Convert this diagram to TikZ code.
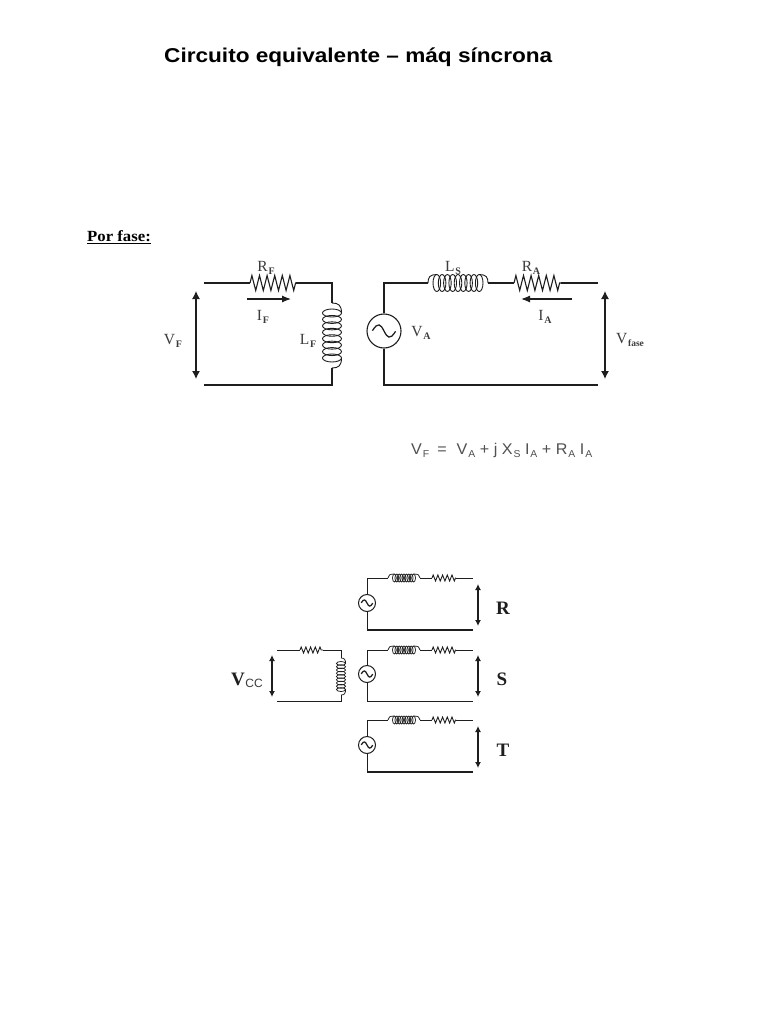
\documentclass[tikz,border=0pt]{standalone}
\usepackage{fontspec}
\setmainfont{Liberation Serif}
\setsansfont{Liberation Sans}
\newfontfamily\titlefont[FakeStretch=1.13]{Liberation Sans}
\newfontfamily\headfont[FakeStretch=1.08]{Liberation Serif}
\newfontfamily\eqfont[FakeStretch=1.04]{Liberation Sans}
\usetikzlibrary{decorations.pathmorphing,arrows.meta,calc}
\definecolor{ink}{HTML}{1E1E1E}
\definecolor{soft}{HTML}{3C3C3C}
\definecolor{eqgrey}{HTML}{505050}
\newcommand{\fs}[1]{\fontsize{#1}{#1}\selectfont}
\newcommand{\lab}[2]{#1\kern.8pt\raisebox{-2.5pt}{\fs{10}\bfseries #2}}
\newcommand{\eqsub}[1]{\kern1pt\raisebox{-3pt}{\fs{10}#1}}
\newcommand{\tildeat}[2]{\draw[wire,shift={(#1.center)},x=#2pt,y=#2pt] (-.68,.02) .. controls (-.35,.55) and (-.2,.4) .. (0,0) .. controls (.2,-.4) and (.35,-.55) .. (.68,-.02);}
% \coilat{start}{angle}{length}{loops}{half width}{half height}{inset}{style}
\newcommand{\coilat}[8]{%
  \begin{scope}[shift={(#1)},rotate=#2,#8]
    \pgfmathsetmacro{\cfirst}{#7+#5}
    \pgfmathsetmacro{\clast}{#3-#7-#5}
    \pgfmathsetmacro{\cstep}{(\clast-\cfirst)/(#4-1)}
    \draw (0,0) .. controls (0,-#6*.7) and (#7*.4,-#6) .. (\cfirst,-#6);
    \draw (#3,0) .. controls (#3,-#6*.7) and (#3-#7*.4,-#6) .. (\clast,-#6);
    \foreach \ci in {1,...,#4}{
      \pgfmathsetmacro{\cx}{\cfirst+(\ci-1)*\cstep}
      \draw (\cx,0) ellipse [x radius=#5pt,y radius=#6pt];
    }
  \end{scope}}
\tikzset{
  wire/.style={draw=ink,line width=1.25pt,line join=miter},
  thin wire/.style={draw=ink,line width=1pt},
  heavy wire/.style={draw=ink,line width=1.9pt},
  bigres/.style={draw=ink,line width=1.1pt,decorate,decoration={zigzag,segment length=7.6pt,amplitude=7.5pt}},
  smallres/.style={draw=ink,line width=.9pt,decorate,decoration={zigzag,segment length=4.7pt,amplitude=3pt}},
  bigcoil/.style={line width=.9pt,draw=ink},
  smallcoil/.style={line width=.75pt,draw=ink},
  bigsrc/.style={circle,draw=ink,line width=1.1pt,minimum size=34pt,inner sep=0pt},
  smallsrc/.style={circle,draw=ink,line width=1pt,minimum size=17pt,inner sep=0pt},
  dbl/.style={draw=ink,line width=1.2pt,{Latex[length=8pt,width=8pt]}-{Latex[length=8pt,width=8pt]}},
  smalldbl/.style={draw=ink,line width=1.2pt,{Latex[length=6pt,width=6pt]}-{Latex[length=6pt,width=6pt]}},
  curr/.style={draw=ink,line width=1.2pt,-{Latex[length=9pt,width=7pt]}},
  val/.style={text=soft,font=\fs{15.5},inner sep=0pt},
  phase/.style={text=ink,font=\fs{19}\bfseries,inner sep=0pt},
}
\begin{document}
\begin{tikzpicture}[x=1pt,y=-1pt]
\fill[white] (0,0) rectangle (768,1024);
\useasboundingbox (0,0) rectangle (768,1024);

\node[anchor=west,inner sep=0pt,font=\titlefont\bfseries\fs{20}] (title) at (164,57) {Circuito equivalente – máq síncrona};
\node[anchor=west,inner sep=0pt,font=\headfont\bfseries\fs{15.5}] (porfase) at (87,237) {\underline{Por fase:}};

% Field circuit
\coordinate (ftl) at (204,283);
\coordinate (fr1) at (250,283);
\coordinate (fr2) at (296,283);
\coordinate (ftr) at (332,283);
\coordinate (fl1) at (332,303);
\coordinate (fl2) at (332,368);
\coordinate (fbr) at (332,385);
\coordinate (fbl) at (204,385);
\draw[wire] (ftl) -- (fr1);
\draw[bigres] (fr1) -- (fr2);
\draw[wire] (fr2) -- (ftr) -- (fl1);
\coilat{fl1}{-90}{65}{8}{4}{9.5}{6}{bigcoil}
\draw[wire] (fl2) -- (fbr) -- (fbl);
\coordinate (vf1) at (196,291); \coordinate (vf2) at (196,379);
\draw[dbl] (vf1) -- (vf2);
\coordinate (if1) at (247,299); \coordinate (if2) at (291,299);
\draw[curr] (if1) -- (if2);
\node[val] (lrf) at (266,268) {\lab{R}{F}};
\node[val] (lif) at (263,317) {\lab{I}{F}};
\node[val] (llf) at (308,341) {\lab{L}{F}};
\node[val] (lvf) at (173,341) {\lab{V}{F}};

% Armature circuit
\node[bigsrc] (va) at (384,331) {};
\tildeat{va}{17}
\coordinate (atl) at (384,283);
\coordinate (al1) at (428,283);
\coordinate (al2) at (488,283);
\coordinate (ar1) at (514,283);
\coordinate (ar2) at (561,283);
\coordinate (atr) at (598,283);
\coordinate (abl) at (384,385);
\coordinate (abr) at (598,385);
\draw[wire] (va.north) -- (atl) -- (al1);
\coilat{al1}{0}{60}{9}{3.8}{8.5}{5}{bigcoil}
\draw[wire] (al2) -- (ar1);
\draw[bigres] (ar1) -- (ar2);
\draw[wire] (ar2) -- (atr);
\draw[wire] (va.south) -- (abl) -- (abr);
\coordinate (vp1) at (605,291); \coordinate (vp2) at (605,379);
\draw[dbl] (vp1) -- (vp2);
\coordinate (ia1) at (572,299); \coordinate (ia2) at (521,299);
\draw[curr] (ia1) -- (ia2);
\node[val] (lls) at (453,268) {\lab{L}{S}};
\node[val] (lra) at (531,268) {\lab{R}{A}};
\node[val] (lia) at (545,317) {\lab{I}{A}};
\node[val] (lva) at (421,333) {\lab{V}{A}};
\node[val] (lvp) at (630,340) {V\kern.8pt\raisebox{-2.5pt}{\fs{9.5}\bfseries fase}};

% Equation
\node[anchor=west,inner sep=0pt,text=eqgrey,font=\eqfont\fs{15.5}] (eq) at (411,450) {V\eqsub{F}\kern8pt=\kern10ptV\eqsub{A} + j X\eqsub{S} I\eqsub{A} + R\eqsub{A} I\eqsub{A}};

% Phase R
\node[smallsrc] (sr) at (367,603) {};
\tildeat{sr}{8.5}
\coordinate (rtl) at (367,578); \coordinate (rl1) at (388,578); \coordinate (rl2) at (420,578);
\coordinate (rr1) at (432,578); \coordinate (rr2) at (456,578); \coordinate (rtr) at (473,578);
\coordinate (rbl) at (367,630); \coordinate (rbr) at (473,630);
\draw[thin wire] (sr.north) -- (rtl) -- (rl1);
\coilat{rl1}{0}{32}{9}{1.9}{4}{4.5}{smallcoil}
\draw[thin wire] (rl2) -- (rr1);
\draw[smallres] (rr1) -- (rr2);
\draw[thin wire] (rr2) -- (rtr);
\draw[thin wire] (sr.south) -- (rbl);
\draw[heavy wire] (rbl) -- (rbr);
\coordinate (ra1) at (478,584); \coordinate (ra2) at (478,626);
\draw[smalldbl] (ra1) -- (ra2);
\node[phase] (lr) at (503,608) {R};

% Phase S
\node[smallsrc] (ss) at (367,674) {};
\tildeat{ss}{8.5}
\coordinate (stl) at (367,650); \coordinate (sl1) at (388,650); \coordinate (sl2) at (420,650);
\coordinate (sr1) at (432,650); \coordinate (sr2) at (456,650); \coordinate (str) at (473,650);
\coordinate (sbl) at (367,701); \coordinate (sbr) at (473,701);
\draw[thin wire] (ss.north) -- (stl) -- (sl1);
\coilat{sl1}{0}{32}{9}{1.9}{4}{4.5}{smallcoil}
\draw[thin wire] (sl2) -- (sr1);
\draw[smallres] (sr1) -- (sr2);
\draw[thin wire] (sr2) -- (str);
\draw[thin wire] (ss.south) -- (sbl) -- (sbr);
\coordinate (sa1) at (478,655); \coordinate (sa2) at (478,697);
\draw[smalldbl] (sa1) -- (sa2);
\node[phase] (ls) at (502,679) {S};

% Phase T
\node[smallsrc] (st) at (367,745) {};
\tildeat{st}{8.5}
\coordinate (ttl) at (367,720); \coordinate (tl1) at (388,720); \coordinate (tl2) at (420,720);
\coordinate (tr1) at (432,720); \coordinate (tr2) at (456,720); \coordinate (ttr) at (473,720);
\coordinate (tbl) at (367,772); \coordinate (tbr) at (473,772);
\draw[thin wire] (st.north) -- (ttl) -- (tl1);
\coilat{tl1}{0}{32}{9}{1.9}{4}{4.5}{smallcoil}
\draw[thin wire] (tl2) -- (tr1);
\draw[smallres] (tr1) -- (tr2);
\draw[thin wire] (tr2) -- (ttr);
\draw[thin wire] (st.south) -- (tbl);
\draw[heavy wire] (tbl) -- (tbr);
\coordinate (ta1) at (478,726); \coordinate (ta2) at (478,768);
\draw[smalldbl] (ta1) -- (ta2);
\node[phase] (lt) at (503,750) {T};

% DC field
\coordinate (ctl) at (277,650); \coordinate (cr1) at (300,650); \coordinate (cr2) at (323,650);
\coordinate (ctr) at (341,650); \coordinate (cl1) at (341,658); \coordinate (cl2) at (341,695);
\coordinate (cbr) at (341,701); \coordinate (cbl) at (277,701);
\draw[thin wire] (ctl) -- (cr1);
\draw[smallres] (cr1) -- (cr2);
\draw[thin wire] (cr2) -- (ctr) -- (cl1);
\coilat{cl1}{-90}{37}{9}{1.9}{4.6}{3.5}{smallcoil}
\draw[thin wire] (cl2) -- (cbr) -- (cbl);
\coordinate (ca1) at (272,655); \coordinate (ca2) at (272,697);
\draw[smalldbl] (ca1) -- (ca2);
\node[inner sep=0pt,text=ink] (lvcc) at (247,680) {{\fs{19}\bfseries V}\kern.5pt\raisebox{-2pt}{\sffamily\fs{12}\color{soft}CC}};
\end{tikzpicture}
\end{document}
